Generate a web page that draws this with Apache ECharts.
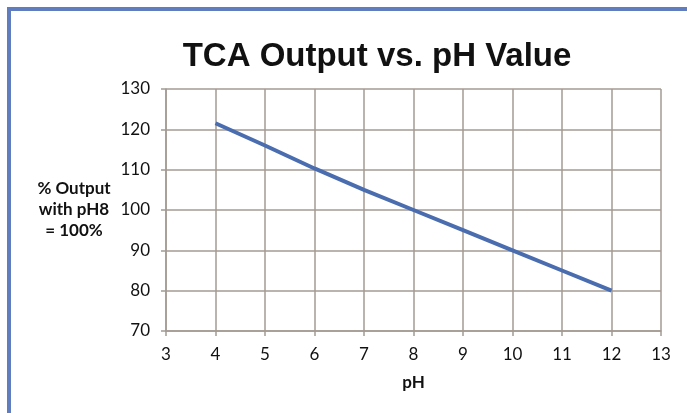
<!DOCTYPE html>
<html>
<head>
<meta charset="utf-8">
<script src="https://cdn.jsdelivr.net/npm/echarts@6/dist/echarts.min.js"></script>
<style>
    html, body { margin: 0; padding: 0; background: #fff; }
    #main { width: 687px; height: 413px; }
</style>
</head>
<body>
<div id="main"></div>
<script>
// pH values and % output (pH8 = 100%)
var phValues = [4, 5, 6, 7, 8, 9, 10, 11, 12];
var outputPct = [121.5, 116, 110.3, 105, 100, 95, 90, 85, 80];

var chartTitle = 'TCA Output vs. pH Value';
var yName = '% Output\nwith pH8\n= 100%';
var xName = 'pH';

var myChart = echarts.init(document.getElementById('main'));

var gridColor = '#a39a93';
var lineData = [];
for (var i = 0; i < phValues.length; i++) {
    lineData.push([phValues[i], outputPct[i]]);
}

myChart.setOption({
    animation: false,
    title: {
        text: chartTitle,
        left: 372,
        top: 35,
        textAlign: 'center',
        textStyle: {
            fontFamily: 'Liberation Sans',
            fontWeight: 'bold',
            fontSize: 33,
            color: '#111'
        }
    },
    graphic: [
        // blue frame of the slide (top and left edges)
        { type: 'rect', shape: { x: 7, y: 7, width: 680, height: 4 }, style: { fill: '#5f7dbf' } },
        { type: 'rect', shape: { x: 7, y: 7, width: 4, height: 406 }, style: { fill: '#5f7dbf' } }
    ],
    grid: {
        left: 166,
        right: 26,
        top: 89,
        bottom: 82
    },
    xAxis: {
        type: 'value',
        min: 3,
        max: 13,
        interval: 1,
        name: xName,
        nameLocation: 'middle',
        nameGap: 43,
        nameTextStyle: { fontFamily: 'Lato', fontWeight: 'bold', fontSize: 17, color: '#111' },
        axisLine: { show: true, lineStyle: { color: gridColor, width: 1.5 } },
        axisTick: { show: true, length: 5, lineStyle: { color: gridColor, width: 1.5 } },
        axisLabel: { fontFamily: 'Lato', fontSize: 17, color: '#111', margin: 15 },
        splitLine: { show: true, lineStyle: { color: gridColor, width: 1.5 } }
    },
    yAxis: {
        type: 'value',
        min: 70,
        max: 130,
        interval: 10,
        name: yName,
        nameLocation: 'middle',
        nameRotate: 0,
        nameGap: 92,
        nameTextStyle: { fontFamily: 'Lato', fontWeight: 'bold', fontSize: 17, color: '#111', align: 'center', lineHeight: 21 },
        axisLine: { show: true, lineStyle: { color: gridColor, width: 1.5 } },
        axisTick: { show: true, length: 5, lineStyle: { color: gridColor, width: 1.5 } },
        axisLabel: { fontFamily: 'Lato', fontSize: 17, color: '#111', margin: 16 },
        splitLine: { show: true, lineStyle: { color: gridColor, width: 1.5 } }
    },
    series: [{
        type: 'line',
        data: lineData,
        showSymbol: false,
        lineStyle: { color: '#4a6db0', width: 4 }
    }]
});
</script>
</body>
</html>
